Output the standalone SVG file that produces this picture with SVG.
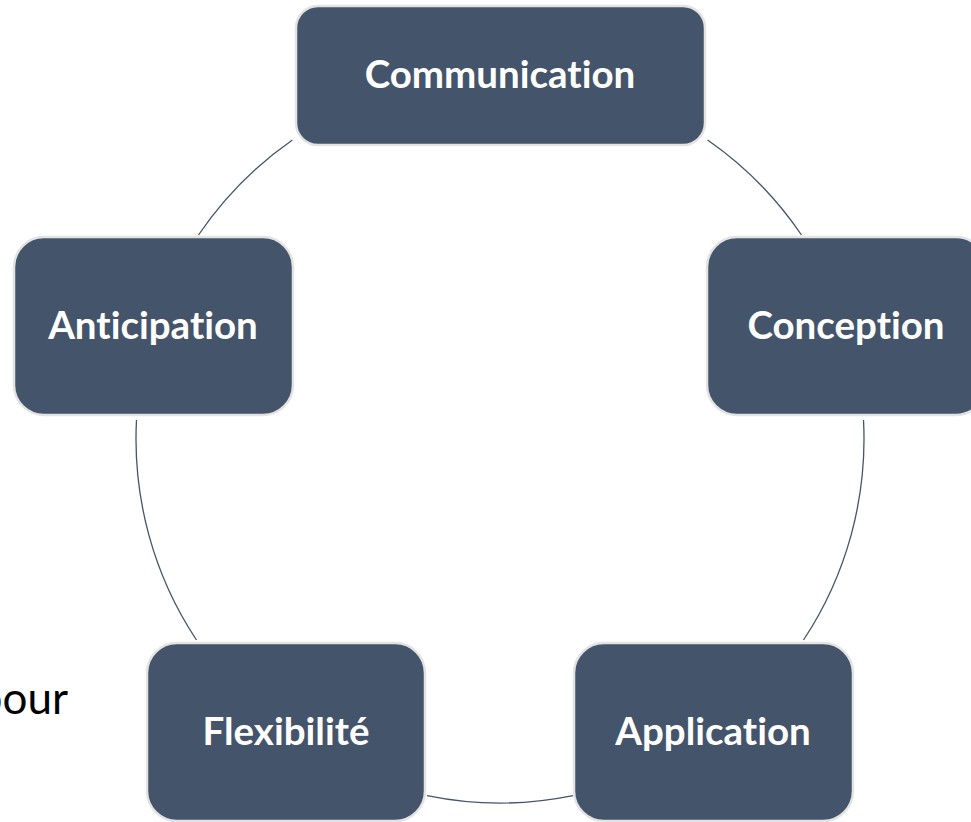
<svg xmlns="http://www.w3.org/2000/svg" width="971" height="822" viewBox="0 0 971 822">
<style>
.box{fill:#44546a;stroke:#e3e3e3;stroke-width:2.5}
.lbl{font-family:Lato,"Open Sans","Liberation Sans",sans-serif;font-weight:bold;font-size:38.5px;fill:#ffffff;text-anchor:middle;font-variant-ligatures:none}
.arc{fill:none;stroke:#44546a;stroke-width:1.3}
.side{font-family:Lato,"Open Sans","Liberation Sans",sans-serif;font-size:44px;fill:#000000;font-variant-ligatures:none}
</style>
<rect width="971" height="822" fill="#ffffff"/>
<text class="side" x="68" y="714" text-anchor="end">pour</text>
<g id="connectors">
<path class="arc" d="M707.6,140 A364,364 0 0 1 801.5,235"/>
<path class="arc" d="M863.5,420 A364,364 0 0 1 803.5,640"/>
<path class="arc" d="M573,795.6 A364,364 0 0 1 427,795.6"/>
<path class="arc" d="M196.5,640 A364,364 0 0 1 136.5,420"/>
<path class="arc" d="M198.5,235 A364,364 0 0 1 292.4,140"/>
</g>
<g id="communication">
<rect class="box" x="296" y="6" width="409" height="139" rx="22"/>
<text class="lbl" x="500" y="88">Communication</text>
</g>
<g id="conception">
<rect class="box" x="707" y="237" width="279" height="178" rx="30"/>
<text class="lbl" x="846" y="339">Conception</text>
</g>
<g id="application">
<rect class="box" x="574" y="643" width="279" height="178" rx="30"/>
<text class="lbl" x="713" y="745">Application</text>
</g>
<g id="flexibilite">
<rect class="box" x="147" y="643" width="278" height="178" rx="30"/>
<text class="lbl" x="286" y="745">Flexibilité</text>
</g>
<g id="anticipation">
<rect class="box" x="14" y="237" width="279" height="178" rx="30"/>
<text class="lbl" x="153" y="339">Anticipation</text>
</g>
</svg>
